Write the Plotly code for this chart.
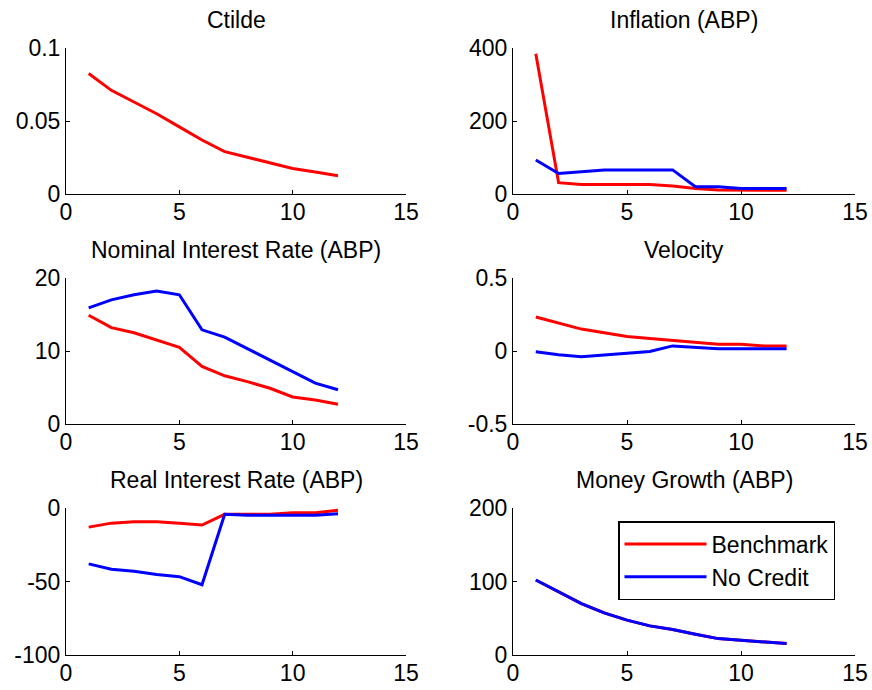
import plotly.graph_objects as go

# Horizon (periods)
periods = list(range(1, 13))

# Ctilde (benchmark only)
ctilde_bench = [0.0825, 0.071, 0.063, 0.055, 0.046, 0.037, 0.029, 0.025, 0.021, 0.0175, 0.015, 0.0125]

# Inflation (ABP)
infl_bench = [384, 31, 26, 26, 26, 26, 22, 15, 11, 11, 10, 10]
infl_nocred = [93, 56, 61, 66, 66, 66, 66, 20, 20, 15, 15, 15]

# Nominal interest rate (ABP)
nom_bench = [14.9, 13.2, 12.5, 11.5, 10.5, 7.9, 6.6, 5.8, 4.9, 3.7, 3.3, 2.7]
nom_nocred = [15.9, 17.0, 17.7, 18.2, 17.7, 12.9, 11.9, 10.3, 8.7, 7.1, 5.6, 4.7]

# Velocity
vel_bench = [0.233, 0.19, 0.15, 0.125, 0.10, 0.085, 0.074, 0.06, 0.047, 0.047, 0.035, 0.035]
vel_nocred = [-0.005, -0.026, -0.04, -0.028, -0.017, -0.003, 0.035, 0.026, 0.015, 0.015, 0.015, 0.015]

# Real interest rate (ABP)
real_bench = [-13.0, -10.3, -9.3, -9.3, -10.3, -11.6, -4.3, -4.3, -4.3, -3.2, -3.2, -1.6]
real_nocred = [-38.0, -41.7, -43.0, -45.3, -46.7, -52.2, -4.3, -5.0, -5.0, -5.0, -5.0, -3.9]

# Money growth (ABP)
money_bench = [102, 86, 70, 57.4, 47.4, 39.6, 34.6, 28.2, 22.3, 20.0, 17.8, 15.5]
money_nocred = [102, 86, 70, 57.4, 47.4, 39.6, 34.6, 28.2, 22.3, 20.0, 17.8, 15.5]

titles = ["Ctilde", "Inflation (ABP)", "Nominal Interest Rate (ABP)",
          "Velocity", "Real Interest Rate (ABP)", "Money Growth (ABP)"]

x_ticks = [0, 5, 10, 15]
x_ticktext = ["0", "5", "10", "15"]

y_ticks = [
    [0, 0.05, 0.1],
    [0, 200, 400],
    [0, 10, 20],
    [-0.5, 0, 0.5],
    [-100, -50, 0],
    [0, 100, 200],
]
y_ticktext = [
    ["0", "0.05", "0.1"],
    ["0", "200", "400"],
    ["0", "10", "20"],
    ["-0.5", "0", "0.5"],
    ["-100", "-50", "0"],
    ["0", "100", "200"],
]

series_names = ["Benchmark", "No Credit"]
colors = ["#ff0000", "#0000ff"]

panels = [
    [ctilde_bench],
    [infl_bench, infl_nocred],
    [nom_bench, nom_nocred],
    [vel_bench, vel_nocred],
    [real_bench, real_nocred],
    [money_bench, money_nocred],
]

W, H = 872, 690
# plot-area boxes in pixels: (left, right, top, bottom)
col_px = [(66, 406), (513, 855)]
row_px = [(48, 194), (278, 424), (508, 655)]

FONT = "Liberation Sans, Arial, sans-serif"
FS = 23
fig = go.Figure()
layout = dict(
    width=W, height=H,
    margin=dict(l=0, r=0, t=0, b=0, autoexpand=False),
    paper_bgcolor="white", plot_bgcolor="white",
    font=dict(family=FONT, size=FS, color="black"),
    showlegend=True,
    annotations=[],
)

for i, data in enumerate(panels):
    r, c = divmod(i, 2)
    n = i + 1
    xa = "x" if n == 1 else f"x{n}"
    ya = "y" if n == 1 else f"y{n}"
    for k, ys in enumerate(data):
        fig.add_trace(go.Scatter(
            x=periods, y=ys, mode="lines",
            line=dict(color=colors[k], width=3),
            name=series_names[k],
            showlegend=(i == 5),
            xaxis=xa, yaxis=ya,
        ))
    l, rr = col_px[c]
    t, b = row_px[r]
    xdom = [l / W, rr / W]
    ydom = [1 - b / H, 1 - t / H]
    common = dict(showline=True, linecolor="black", linewidth=1, mirror=False,
                  showgrid=False, zeroline=False, ticks="inside", ticklen=4,
                  tickcolor="black", tickwidth=1, tickfont=dict(size=FS),
                  automargin=False)
    layout["xaxis" if n == 1 else f"xaxis{n}"] = dict(
        domain=xdom, anchor=ya, range=[0, 15], ticklabelstandoff=-3,
        tickmode="array", tickvals=x_ticks, ticktext=x_ticktext, **common)
    layout["yaxis" if n == 1 else f"yaxis{n}"] = dict(
        domain=ydom, anchor=xa, range=[y_ticks[i][0], y_ticks[i][-1]],
        tickmode="array", tickvals=y_ticks[i], ticktext=y_ticktext[i], **common)
    layout["annotations"].append(dict(
        text=titles[i], xref="paper", yref="paper",
        x=(xdom[0] + xdom[1]) / 2, y=1 - (t - 28) / H,
        xanchor="center", yanchor="middle", showarrow=False,
        font=dict(size=FS, family=FONT)))

layout["legend"] = dict(
    x=618 / W, y=1 - 521 / H, xanchor="left", yanchor="top",
    bgcolor="white", bordercolor="black", borderwidth=1.5,
    font=dict(size=FS, family=FONT), itemwidth=82,
    tracegroupgap=0,
)

fig.update_layout(**layout)
fig.write_html("out.html")
